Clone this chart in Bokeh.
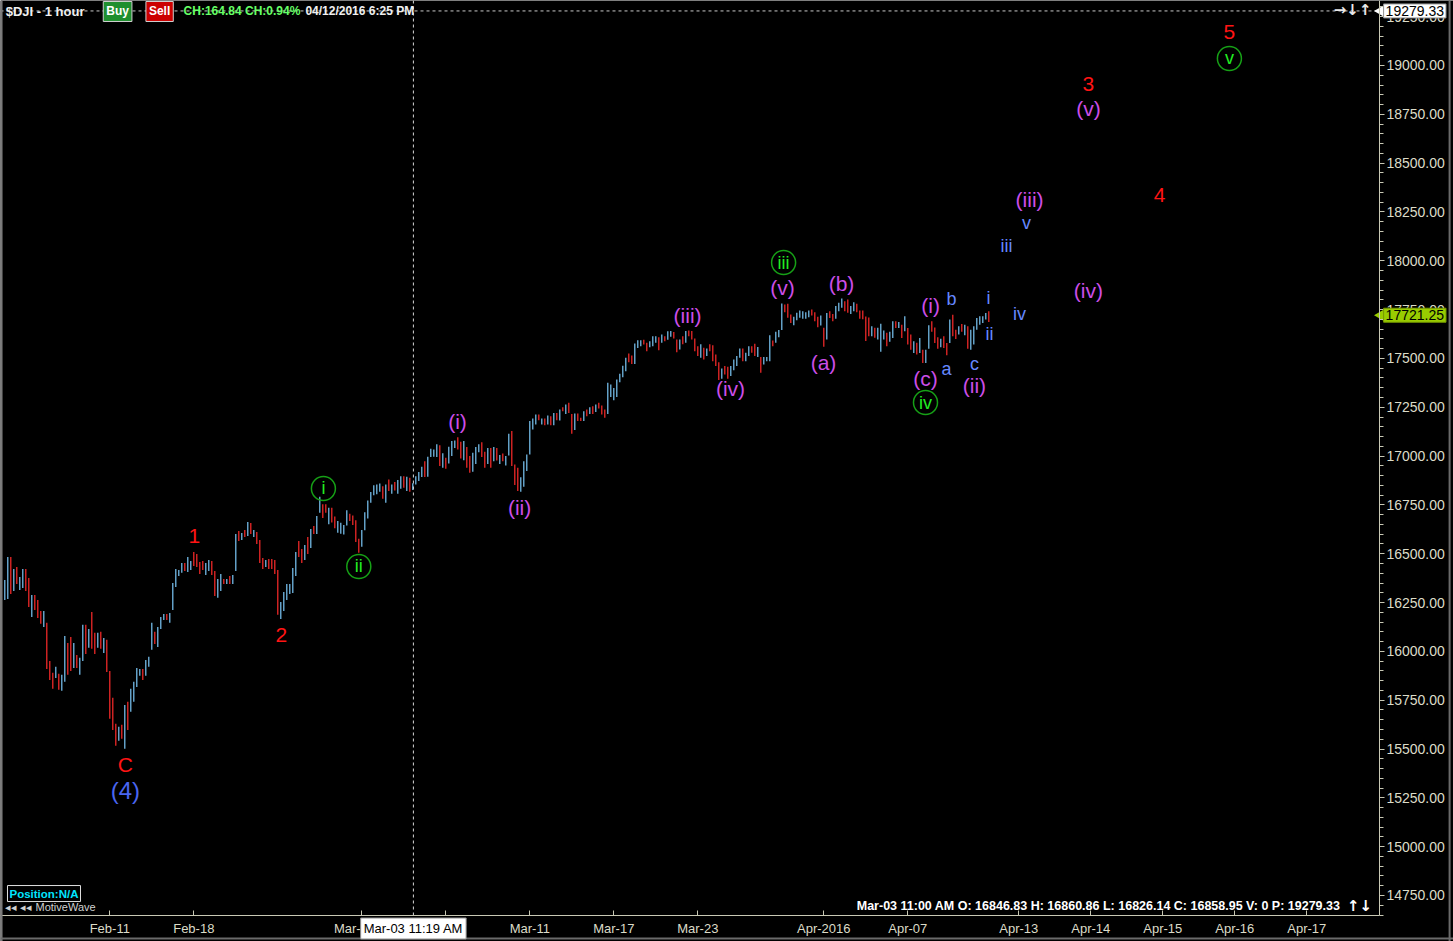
import math
from bokeh.plotting import figure
from bokeh.models import (Label, Span, FixedTicker, SingleIntervalTicker, PrintfTickFormatter,
                          ColumnDataSource, Range1d)
from bokeh.core.properties import value
from bokeh.embed import file_html
from bokeh.resources import INLINE

# ---------------- data (hourly bars, $DJI, Feb-04 .. Apr-12 2016) ----------------
bar_high = [
    16366, 16483, 16483, 16422, 16432, 16381, 16422, 16422, 16376, 16289,
    16289, 16263, 16207, 16207, 16146, 15951, 15890, 15921, 15885, 15880,
    16079, 16043, 16074, 16043, 15982, 15967, 16136, 16136, 16115, 16202,
    16095, 16095, 16100, 16069, 16059, 15900, 15762, 15629, 15614, 15624,
    15726, 15742, 15808, 15844, 15915, 15910, 15910, 15956, 15972, 16146,
    16100, 16125, 16176, 16192, 16192, 16197, 16350, 16422, 16417, 16453,
    16453, 16483, 16463, 16509, 16499, 16458, 16463, 16453, 16468, 16463,
    16412, 16371, 16396, 16371, 16371, 16386, 16391, 16601, 16616, 16606,
    16621, 16662, 16657, 16621, 16611, 16570, 16478, 16468, 16473, 16473,
    16468, 16417, 16253, 16304, 16345, 16345, 16427, 16509, 16565, 16524,
    16545, 16586, 16627, 16642, 16693, 16792, 16753, 16753, 16736, 16735,
    16690, 16668, 16659, 16647, 16722, 16705, 16696, 16672, 16577, 16621,
    16713, 16773, 16816, 16851, 16855, 16860, 16846, 16855, 16880, 16855,
    16867, 16877, 16897, 16897, 16894, 16889, 16860.86, 16897, 16918, 16945,
    16974, 16996, 17037, 17034, 17060, 17056, 17014, 16991, 17048, 17077,
    17080, 17097, 17073, 17077, 17046, 17000, 17017, 17046, 17060, 17071,
    17022, 17042, 17042, 17047, 17042, 17005, 17013, 17000, 17114, 17128,
    16957, 16940, 16892, 16974, 17008, 17179, 17192, 17213, 17213, 17192,
    17192, 17208, 17204, 17221, 17221, 17238, 17250, 17264, 17273, 17216,
    17218, 17218, 17196, 17230, 17238, 17250, 17255, 17264, 17273, 17259,
    17238, 17375, 17366, 17349, 17392, 17421, 17463, 17503, 17525, 17515,
    17576, 17593, 17593, 17596, 17580, 17588, 17614, 17614, 17608, 17622,
    17614, 17639, 17640, 17635, 17597, 17597, 17614, 17640, 17643, 17640,
    17602, 17563, 17572, 17555, 17551, 17572, 17568, 17520, 17481, 17449,
    17461, 17457, 17461, 17495, 17512, 17551, 17551, 17529, 17563, 17563,
    17575, 17558, 17507, 17507, 17507, 17619, 17592, 17636, 17645, 17781,
    17776, 17780, 17725, 17713, 17734, 17745, 17742, 17737, 17745, 17751,
    17737, 17713, 17720, 17657, 17733, 17742, 17728, 17768, 17785, 17807,
    17793, 17802, 17768, 17788, 17780, 17745, 17745, 17715, 17710, 17665,
    17657, 17657, 17677, 17643, 17631, 17636, 17690, 17690, 17687, 17673,
    17716, 17656, 17622, 17588, 17580, 17605, 17545, 17545, 17670, 17690,
    17659, 17608, 17601, 17613, 17579, 17699, 17724, 17647, 17665, 17676,
    17673, 17665, 17647, 17665, 17707, 17716, 17716, 17733, 17741,
]
bar_low = [
    16263, 16268, 16294, 16309, 16345, 16314, 16325, 16309, 16227, 16176,
    16212, 16171, 16141, 16125, 15910, 15854, 15808, 15864, 15803, 15798,
    15844, 15880, 15900, 15915, 15915, 15880, 15951, 15987, 16018, 16013,
    15987, 16018, 16013, 15992, 15895, 15655, 15598, 15517, 15542, 15552,
    15501, 15598, 15691, 15742, 15818, 15875, 15854, 15875, 15921, 16008,
    16038, 16023, 16115, 16161, 16161, 16146, 16212, 16330, 16386, 16402,
    16412, 16407, 16417, 16437, 16432, 16396, 16417, 16391, 16412, 16391,
    16284, 16274, 16309, 16345, 16345, 16345, 16345, 16412, 16565, 16570,
    16586, 16591, 16601, 16586, 16550, 16453, 16422, 16432, 16422, 16422,
    16396, 16187, 16166, 16207, 16263, 16294, 16299, 16386, 16483, 16453,
    16468, 16499, 16529, 16601, 16601, 16710, 16683, 16710, 16651, 16660,
    16630, 16608, 16602, 16599, 16645, 16667, 16647, 16560, 16505, 16536,
    16620, 16681, 16761, 16800, 16804, 16817, 16781, 16761, 16821, 16807,
    16824, 16807, 16833, 16838, 16821, 16817, 16826.14, 16855, 16872, 16893,
    16893, 16894, 16995, 16997, 16995, 16949, 16940, 16935, 16962, 17000,
    17042, 17034, 16988, 16979, 16940, 16914, 16920, 16960, 17020, 16995,
    16940, 16960, 16940, 16974, 16978, 16960, 16974, 16952, 17003, 16949,
    16852, 16821, 16817, 16843, 16923, 17008, 17136, 17162, 17184, 17162,
    17158, 17162, 17158, 17158, 17184, 17182, 17230, 17216, 17221, 17114,
    17133, 17179, 17179, 17179, 17204, 17216, 17216, 17226, 17244, 17213,
    17196, 17216, 17302, 17286, 17302, 17378, 17404, 17435, 17480, 17472,
    17472, 17554, 17562, 17571, 17537, 17557, 17562, 17580, 17542, 17580,
    17588, 17596, 17611, 17602, 17532, 17546, 17572, 17580, 17614, 17597,
    17537, 17512, 17503, 17495, 17512, 17537, 17486, 17461, 17389, 17396,
    17418, 17396, 17410, 17439, 17461, 17503, 17486, 17486, 17512, 17529,
    17512, 17507, 17427, 17469, 17486, 17486, 17563, 17580, 17609, 17645,
    17737, 17708, 17682, 17670, 17696, 17708, 17703, 17703, 17711, 17720,
    17691, 17660, 17668, 17560, 17597, 17707, 17691, 17703, 17742, 17759,
    17742, 17734, 17728, 17742, 17737, 17703, 17701, 17589, 17614, 17614,
    17606, 17597, 17534, 17597, 17563, 17585, 17605, 17656, 17656, 17605,
    17639, 17571, 17545, 17528, 17520, 17528, 17477, 17477, 17550, 17636,
    17579, 17550, 17557, 17554, 17516, 17579, 17613, 17600, 17622, 17636,
    17619, 17550, 17545, 17571, 17647, 17673, 17682, 17699, 17687,
]
# u = close above open (blue bar), d = close below open (red bar); 10 bars per row
bar_dir_rows = [
    "uududuuddu", "dddudddudu", "udduduudud", "dududdddud", "uduuuuduuu",
    "duuuduuuuu", "duudddduud", "duududuudu", "dududddudd", "dduuuuuudd",
    "ududuuddud", "duuuuddddu", "uuuuuududu", "duududuuuu", "duuuududuu",
    "uddudduuud", "dudududuud", "dduuuuuudu", "dududududd", "uddudududd",
    "duuuuuuudd", "uuudduuudu", "duuddududd", "ddududdddu", "dduuuuduud",
    "duduuuduuu", "ddduuuuuud", "ddududduuu", "dduudddddu", "duuuduudud",
    "uddududuud", "ddudduddud", "uduuuuuud",
]
bar_dir = "".join(bar_dir_rows)

# ---------------- x axis tick labels (bar positions) ----------------
tick_pos = [35, 63, 119, 147, 175, 203, 231, 273, 301, 338, 362, 386, 410, 434]
tick_text = ["Feb-11", "Feb-18", "Mar-2016", "Mar-07", "Mar-11", "Mar-17", "Mar-23",
             "Apr-2016", "Apr-07", "Apr-13", "Apr-14", "Apr-15", "Apr-16", "Apr-17"]

# ---------------- Elliott wave labels (bar position, price) ----------------
red_lbl = ["C", "1", "2", "3", "4", "5"]
red_x = [40.2, 63.2, 92.2, 361.2, 384.9, 408.2]
red_y = [15421, 16593, 16086, 18903, 18339, 19169]

big_lbl = ["(4)"]
big_x = [40.2]
big_y = [15288]

grn_lbl = ["i", "ii", "iii", "iv", "v"]
grn_x = [106.2, 118.0, 259.6, 306.9, 408.2]
grn_y = [16834, 16435, 17991, 17274, 19036]

mag_lbl = ["(i)", "(ii)", "(iii)", "(iv)", "(v)", "(a)", "(b)", "(c)", "(i)", "(ii)",
           "(iii)", "(iv)", "(v)"]
mag_x = [150.9, 171.6, 227.6, 241.9, 259.2, 272.9, 278.9, 306.9, 308.6, 323.2,
         341.6, 361.2, 361.2]
mag_y = [17177, 16737, 17720, 17346, 17863, 17479, 17884, 17397, 17771, 17361,
         18314, 17848, 18780]

sml_lbl = ["a", "b", "c", "i", "ii", "iii", "iv", "v"]
sml_x = [313.9, 315.6, 323.2, 327.9, 328.2, 333.9, 338.2, 340.6]
sml_y = [17448, 17802, 17469, 17812, 17623, 18078, 17725, 18191]

last_price = 17721.25
target_price = 19279.33
cursor_bar = 136.2

# ---------------- canvas geometry (in bar / price units) ----------------
X0, X1 = -1.433, 482.9          # whole canvas, left..right
Y0, Y1 = 14514.4, 19332.8       # whole canvas, bottom..top
AXIS_X = 458.2                  # price axis position
AXIS_Y = 14647.5                # time axis position

FONT = "Liberation Sans"
p = figure(width=1453, height=941,
           x_range=Range1d(X0, X1), y_range=Range1d(Y0, Y1),
           output_backend="svg", toolbar_location=None, y_axis_location="right",
           background_fill_color="black", border_fill_color="black",
           min_border_left=0, min_border_top=0, min_border_right=0, min_border_bottom=0,
           outline_line_color=None)
p.xgrid.visible = False
p.ygrid.visible = False

AX = "#c8c8b4"
LB = "#dcdcc8"
p.yaxis.fixed_location = AXIS_X
p.yaxis.bounds = (AXIS_Y, Y1)
p.yaxis.ticker = SingleIntervalTicker(interval=250, num_minor_ticks=5)
p.yaxis.formatter = PrintfTickFormatter(format="%.2f")
p.yaxis.axis_line_color = AX
p.yaxis.major_tick_line_color = AX
p.yaxis.minor_tick_line_color = AX
p.yaxis.major_tick_out = 5
p.yaxis.major_tick_in = 0
p.yaxis.minor_tick_out = 4
p.yaxis.minor_tick_in = 0
p.yaxis.major_label_standoff = 2
p.yaxis.major_label_text_color = LB
p.yaxis.major_label_text_font = FONT
p.yaxis.major_label_text_font_size = "14px"

p.xaxis.fixed_location = AXIS_Y
p.xaxis.bounds = (X0, AXIS_X)
p.xaxis.ticker = FixedTicker(ticks=tick_pos)
p.xaxis.major_label_overrides = {t: s for t, s in zip(tick_pos, tick_text)}
p.xaxis.axis_line_color = AX
p.xaxis.major_tick_line_color = AX
p.xaxis.minor_tick_line_color = None
p.xaxis.major_tick_in = 5
p.xaxis.major_tick_out = 0
p.xaxis.major_label_standoff = 5
p.xaxis.major_label_text_color = LB
p.xaxis.major_label_text_font = FONT
p.xaxis.major_label_text_font_size = "13px"

# window frame (grey border)
p.add_layout(Span(location=X0 + 0.35, dimension="height", line_color="#7a7a7a", line_width=2))
p.add_layout(Span(location=481.6, dimension="height", line_color="#6a6a6a", line_width=2))
p.add_layout(Span(location=14530, dimension="width", line_color="#6a6a6a", line_width=2))

# ---------------- bars ----------------
xs = list(range(len(bar_high)))
cols = ["#7cc8f8" if d == "u" else "#ff2b2b" for d in bar_dir]
src = ColumnDataSource(dict(x=xs, hi=bar_high, lo=bar_low, c=cols))
p.segment(x0="x", y0="lo", x1="x", y1="hi", line_color="c", line_width=1.2, source=src)

# ---------------- guide lines ----------------
p.segment(x0=[X0], y0=[target_price], x1=[AXIS_X], y1=[target_price],
          line_color="#c8c8c8", line_dash="3 3", line_width=1)
p.segment(x0=[cursor_bar], y0=[AXIS_Y], x1=[cursor_bar], y1=[Y1],
          line_color="#d8d8d8", line_dash="3 3", line_width=1)

# ---------------- wave labels ----------------
def wave(lbls, x, y, color, size, bold=False):
    p.text(x=x, y=y, text=lbls, text_color=color, text_font=value(FONT),
           text_font_size=size, text_align="center", text_baseline="middle",
           text_font_style="bold" if bold else "normal")

wave(red_lbl, red_x, red_y, "#ff1414", "21px")
wave(big_lbl, big_x, big_y, "#4a66f0", "24px")
wave(mag_lbl, mag_x, mag_y, "#cc4ee8", "21px")
wave(sml_lbl, sml_x, sml_y, "#6688ff", "18px")
p.scatter(x=grn_x, y=grn_y, size=24, marker="circle", fill_color=None,
          line_color="#16a016", line_width=1.5)
wave(grn_lbl, grn_x, grn_y, "#22ee22", "18px")

# ---------------- header / footer texts ----------------
def lab(x, y, text, color, size="12px", bold=False, align="left", bg=None, border=None,
        pad=0, font=FONT):
    kw = dict(x=x, y=y, text=text, text_color=color, text_font=font, text_font_size=size,
              text_font_style="bold" if bold else "normal", text_align=align,
              text_baseline="middle")
    if bg is not None:
        kw["background_fill_color"] = bg
    if border is not None:
        kw["border_line_color"] = border
    if pad:
        kw["padding"] = pad
    p.add_layout(Label(**kw))

hy = 19276.5
lab(0.3, hy, "$DJI - 1 hour", "#f0f0f0", "13px", True)
lab(37.6, hy, "Buy", "#ffffff", "12px", True, align="center", bg="#1f8f2f", border="#d0d0d0", pad=3)
lab(51.6, hy, "Sell", "#ffffff", "12px", True, align="center", bg="#cc0000", border="#d0d0d0", pad=3)
lab(59.6, hy, "CH:164.84 CH:0.94%", "#66ff66", "12px", True)
lab(100.2, hy, "04/12/2016 6:25 PM", "#f0f0f0", "12px", True)
lab(443.0, 19286.0, "→↓↑", "#e8e8e8", "15px", True, font="DejaVu Sans")

lab(0.9, 14760, "Position:N/A", "#00e5ff", "11.5px", True, bg="#000000", border="#e0e0e0", pad=2)
lab(0.2, 14693.6, "◂◂ ◂◂ MotiveWave", "#d0d0d0", "11px")
lab(445.2, 14698.6, "Mar-03 11:00 AM O: 16846.83 H: 16860.86 L: 16826.14 C: 16858.95 V: 0 P: 19279.33",
    "#ffffff", "12.5px", True, align="right")
lab(447.4, 14698.6, "↑↓", "#ffffff", "15px", True, font="DejaVu Sans")

# price boxes on the price axis and cursor box on the time axis
p.scatter(x=[458.9, 458.9], y=[target_price, last_price], marker="triangle", size=13,
          angle=math.pi / 2, fill_color=["#ffffff", "#99cc00"], line_color=None)
lab(459.6, target_price, "19279.33", "#000000", "14px", bg="#ffffff", border="#909090", pad=2)
lab(459.6, last_price, "17721.25", "#000000", "14px", bg="#99cc00", border="#779900", pad=2)
lab(cursor_bar, 14580.9, "Mar-03 11:19 AM", "#000000", "13px", align="center",
    bg="#ffffff", border="#909090", pad=3)

open("out.html", "w").write(file_html(p, INLINE))
